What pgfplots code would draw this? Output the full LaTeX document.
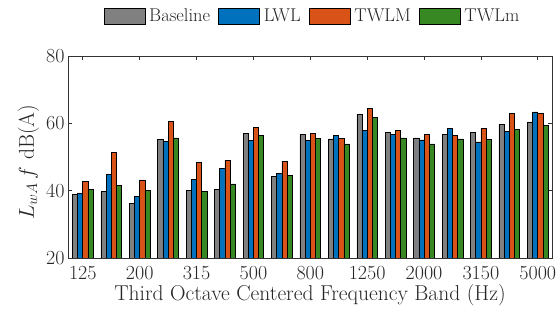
\documentclass[border=0pt]{standalone}
\usepackage{fix-cm}
\usepackage{fontspec}
\usepackage{pgfplots}
\usepackage{pgfplotstable}
\pgfplotsset{compat=1.18}
\definecolor{cgray}{RGB}{128,128,128}
\definecolor{cblue}{RGB}{0,114,189}
\definecolor{corange}{RGB}{217,83,25}
\definecolor{cgreen}{RGB}{55,135,35}
\definecolor{axgray}{RGB}{38,38,38}
\pgfplotstableread{
x base lwl twlmax twlmin
0 38.8 39.3 42.8 40.4
1 39.7 44.9 51.3 41.6
2 36.3 38.4 43.2 40.1
3 55.3 54.7 60.5 55.7
4 40.1 43.3 48.4 39.7
5 40.4 46.6 48.9 42.0
6 57.1 55.0 58.7 56.4
7 44.3 45.2 48.8 44.5
8 56.6 55.0 56.9 55.6
9 55.4 56.4 55.6 53.9
10 62.6 58.0 64.5 61.7
11 57.4 56.6 57.9 55.7
12 55.7 55.1 56.6 53.9
13 56.6 58.5 56.5 55.4
14 57.2 54.5 58.4 55.3
15 59.8 57.7 62.9 58.3
16 60.4 63.4 62.9 59.3
}\datatable
\begin{document}
\begin{tikzpicture}
\begin{axis}[
  scale only axis,
  width=484pt, height=202pt,
  at={(0pt,0pt)}, anchor=south west,
  ybar,
  bar width=0.182,
  legend image code/.code={\draw[#1,bar shift=0pt] (0pt,-7.8pt) rectangle (41pt,7.8pt);},
  xmin=-0.52, xmax=16.5,
  ymin=20, ymax=80,
  ytick={20,40,60,80},
  xtick={0,2,...,16},
  xticklabels={125,200,315,500,800,1250,2000,3150,5000},
  /pgf/number format/assume math mode=true,
  tick align=inside,
  tick pos=both,
  major tick length=4pt,
  axis line style={draw=black!80, line width=0.6pt},
  every tick/.style={draw=black!80, line width=0.6pt},
  ticklabel style={font=\fontsize{20}{20}\selectfont, text=axgray},
  xticklabel style={yshift=-5pt},
  label style={font=\fontsize{21.5}{22}\selectfont, text=axgray},
  xlabel={Third Octave Centered Frequency Band (Hz)},
  xlabel style={yshift=2.5pt},
  ylabel={$L_{wA}\,f$ dB(A)},
  ylabel style={at={(ticklabel cs:0.475)}},
  legend columns=4,
  legend style={at={(0.5,1)}, anchor=center, yshift=40pt, xshift=3.5pt, draw=none, fill=none,
    inner sep=0pt,
    font=\fontsize{18.5}{18.5}\selectfont, text=axgray, nodes={inner xsep=4pt},
    /tikz/every even column/.append style={column sep=4pt}},
  every axis plot/.append style={draw=black, line width=0.6pt},
]
\addplot[fill=cgray, bar shift=-0.273] table[x=x,y=base]{\datatable};
\addplot[fill=cblue, bar shift=-0.091] table[x=x,y=lwl]{\datatable};
\addplot[fill=corange, bar shift=0.091] table[x=x,y=twlmax]{\datatable};
\addplot[fill=cgreen, bar shift=0.273] table[x=x,y=twlmin]{\datatable};
\legend{Baseline,LWL,TWLM,TWLm}
\end{axis}
\pgfresetboundingbox
\path[use as bounding box] (-68pt,-62pt) rectangle (489pt,258pt);
\end{tikzpicture}
\end{document}
